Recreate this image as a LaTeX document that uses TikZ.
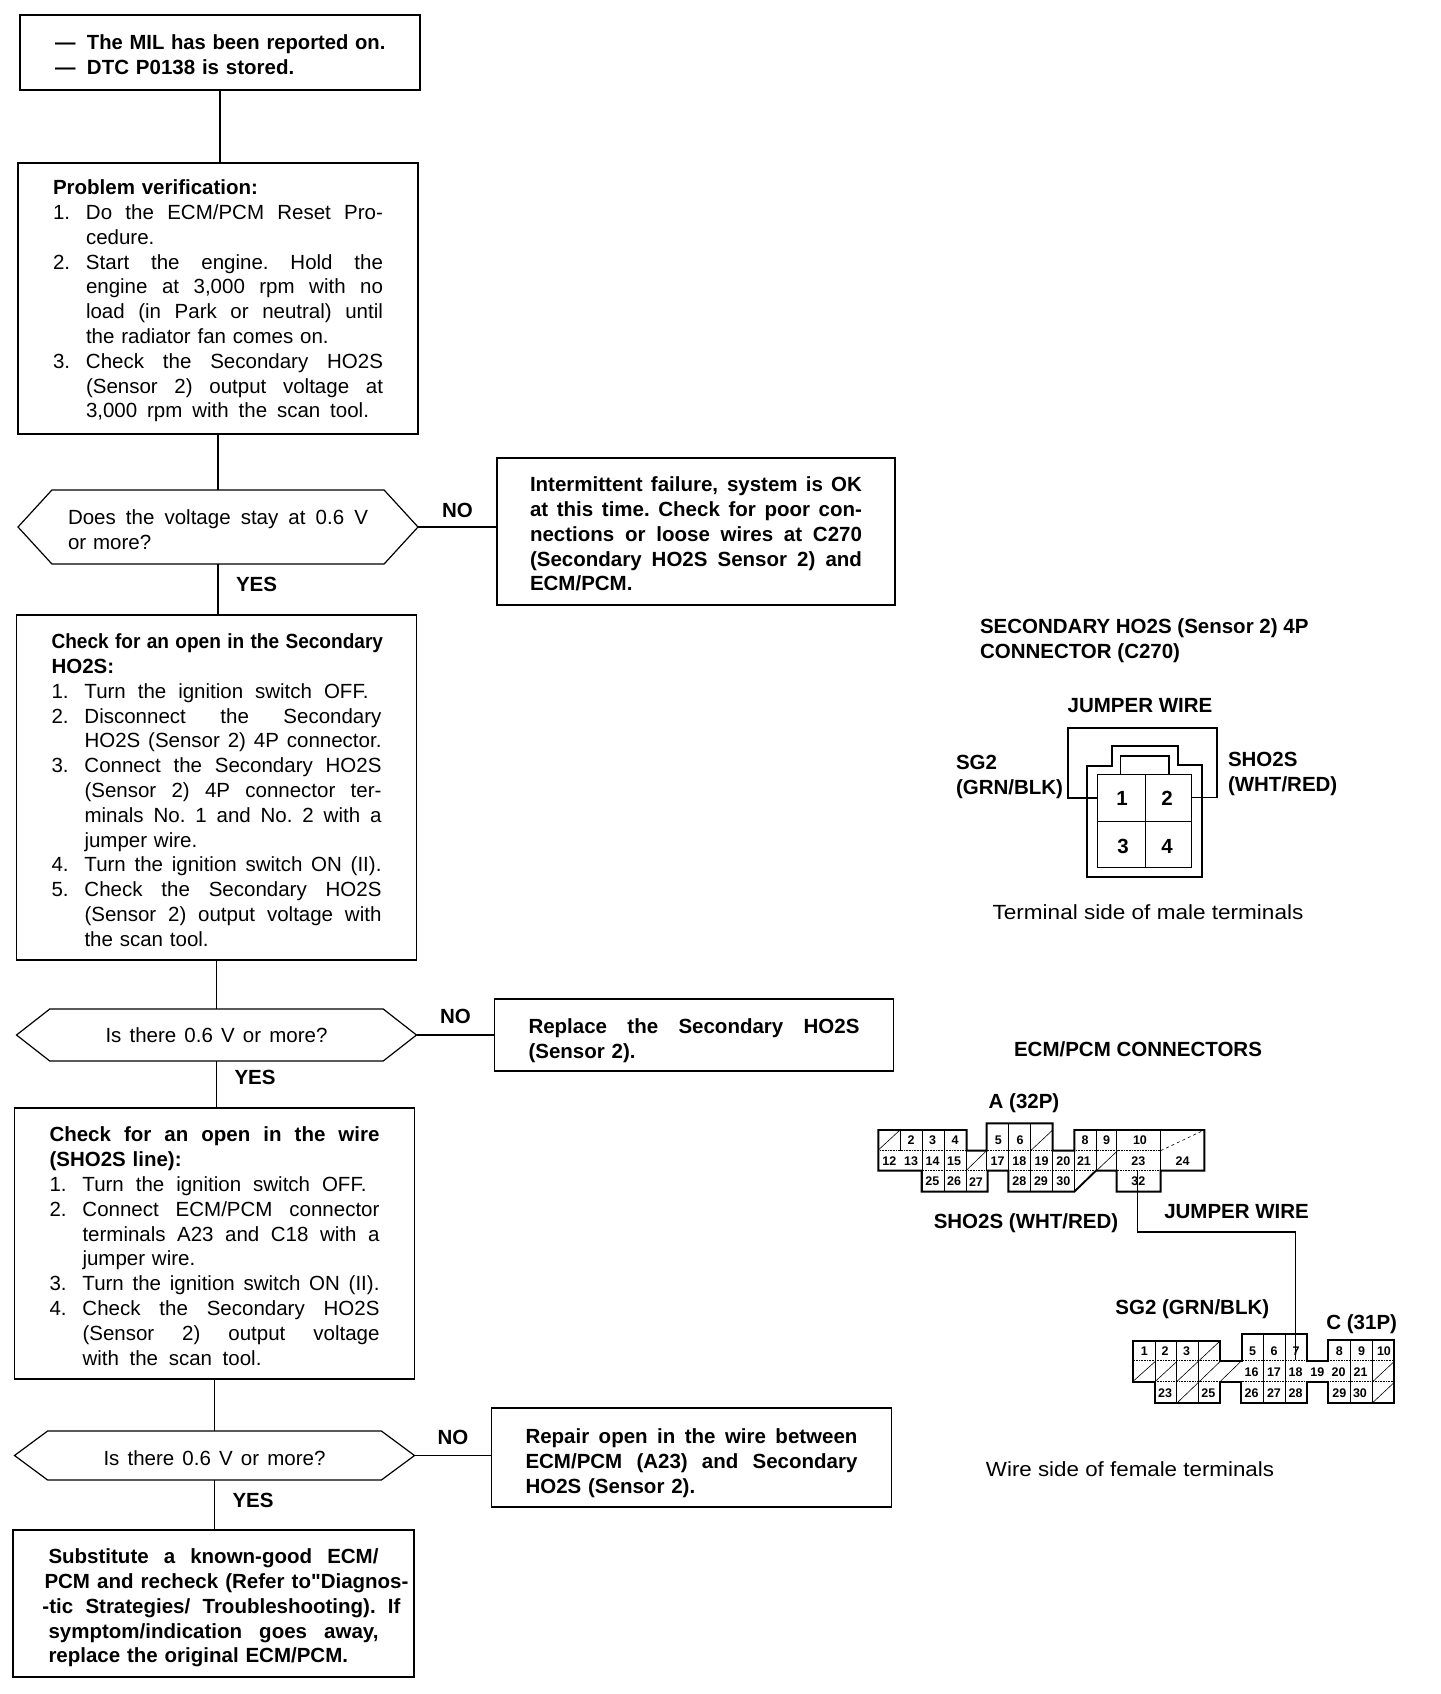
\documentclass[tikz,border=0pt]{standalone}
\usepackage{fontspec}
\setmainfont{Liberation Sans}[Ligatures=TeXOff]
\usepackage{tikz}
\usetikzlibrary{positioning,shapes.symbols}
\newcommand{\bodyfont}{\fontsize{20.5}{24.8}\selectfont}
\newcommand{\wdl}[2]{\makebox[#1][s]{\spaceskip=.28em plus 1fil minus .05em\xspaceskip=\spaceskip #2}}
\newcommand{\stl}[1]{\wdl{\hsize}{#1}}
\newcommand{\itm}[2]{\makebox[33pt][l]{#1}#2}
\newcommand{\sitm}[2]{\makebox[33pt][l]{#1}\wdl{\dimexpr\hsize-33pt}{#2}}
\newcommand{\witm}[3]{\makebox[33pt][l]{#1}\wdl{#2}{#3}}
\begin{document}
\begin{tikzpicture}[x=1pt,y=-1pt, every node/.style={font=\bodyfont,outer sep=0pt,inner sep=0pt},
 drop/.style={execute at begin node=\rule{0pt}{#1}},
 stepbox/.style={draw,line width=1.2pt,minimum width=400pt,text width=330pt,align=left},
 hexbox/.style={draw,line width=1.2pt,shape=signal,signal to=west and east,minimum width=400pt,text width=300pt,align=left},
 lbl/.style={font=\bodyfont\bfseries,align=left},
 cellnum/.style={font=\fontsize{12.5}{14}\selectfont\bfseries},
 wire/.style={line width=1.2pt}, thick line/.style={line width=1.9pt}, cell line/.style={line width=.6pt}]
\path[use as bounding box,fill=white] (0,0) rectangle (1440,1694);
\node[stepbox,drop=20pt,font=\bodyfont\bfseries,minimum height=75pt] (verify0) at (220,52.5) {\mbox{\makebox[32pt][l]{—}\scalebox{.985}[1]{The MIL has been reported on.}}\\\makebox[32pt][l]{—}DTC P0138 is stored.};
\node[stepbox,drop=20pt,minimum height=271pt,below=73pt of verify0,xshift=-2pt] (verify) {\textbf{Problem verification:}\\
\sitm{1.}{Do the ECM/PCM Reset Pro-}\\\itm{}{cedure.}\\
\sitm{2.}{Start the engine. Hold the}\\\sitm{}{engine at 3,000 rpm with no}\\\sitm{}{load (in Park or neutral) until}\\\itm{}{the radiator fan comes on.}\\
\sitm{3.}{Check the Secondary HO2S}\\\sitm{}{(Sensor 2) output voltage at}\\\witm{}{283pt}{3,000 rpm with the scan tool.}};
\node[hexbox,drop=19.5pt,minimum height=74pt,signal pointer angle=95,below=56pt of verify] (stay) {\stl{Does the voltage stay at 0.6 V}\\or more?};
\node[stepbox,drop=20pt,font=\bodyfont\bfseries,minimum width=398pt,text width=332pt,minimum height=147pt,right=79pt of stay,yshift=-4.5pt] (intermit) {\stl{Intermittent failure, system is OK}\\\stl{at this time. Check for poor con-}\\\stl{nections or loose wires at C270}\\\stl{(Secondary HO2S Sensor 2) and}\\ECM/PCM.};
\node[stepbox,drop=20pt,minimum height=345pt,below=51pt of stay,xshift=-1.5pt] (opensens) {\scalebox{.93}[1]{\textbf{Check for an open in the Secondary}}\\\textbf{HO2S:}\\
\witm{1.}{284pt}{Turn the ignition switch OFF.}\\
\sitm{2.}{Disconnect the Secondary}\\\sitm{}{HO2S (Sensor 2) 4P connector.}\\
\sitm{3.}{Connect the Secondary HO2S}\\\sitm{}{(Sensor 2) 4P connector ter-}\\\sitm{}{minals No. 1 and No. 2 with a}\\\itm{}{jumper wire.}\\
\sitm{4.}{Turn the ignition switch ON (II).}\\
\sitm{5.}{Check the Secondary HO2S}\\\sitm{}{(Sensor 2) output voltage with}\\\itm{}{the scan tool.}};
\node[hexbox,minimum height=52pt,signal pointer angle=76,align=center,below=49pt of opensens] (there1) {\wdl{222pt}{Is there 0.6 V or more?}};
\node[stepbox,drop=26pt,font=\bodyfont\bfseries,minimum width=399pt,text width=331pt,minimum height=72pt,right=78pt of there1] (replace) {\stl{Replace the Secondary HO2S}\\(Sensor 2).};
\node[stepbox,drop=20pt,minimum height=271pt,below=47pt of there1,xshift=-2pt] (openwire) {\stl{\textbf{Check for an open in the wire}}\\\textbf{(SHO2S line):}\\
\witm{1.}{284pt}{Turn the ignition switch OFF.}\\
\sitm{2.}{Connect ECM/PCM connector}\\\sitm{}{terminals A23 and C18 with a}\\\itm{}{jumper wire.}\\
\sitm{3.}{Turn the ignition switch ON (II).}\\
\sitm{4.}{Check the Secondary HO2S}\\\sitm{}{(Sensor 2) output voltage}\\\witm{}{179pt}{with the scan tool.}};
\node[hexbox,drop=19.5pt,minimum height=49pt,signal pointer angle=73,align=center,below=52pt of openwire] (there2) {\wdl{222pt}{Is there 0.6 V or more?}};
\node[stepbox,drop=26pt,font=\bodyfont\bfseries,minimum width=400pt,text width=332pt,minimum height=99pt,right=77pt of there2,yshift=-2pt] (repair) {\stl{Repair open in the wire between}\\\stl{ECM/PCM (A23) and Secondary}\\HO2S (Sensor 2).};
\node[stepbox,drop=24pt,font=\bodyfont\bfseries,minimum width=401pt,minimum height=147pt,below=50pt of there2,xshift=-1pt] (subst) {\stl{Substitute a known-good ECM/}\\\hspace*{-4pt}\wdl{364pt}{PCM and recheck (Refer to"Diagnos-}\\\hspace*{-6pt}\wdl{358pt}{-tic Strategies/ Troubleshooting). If}\\\stl{symptom/indication goes away,}\\replace the original ECM/PCM.};
\draw[wire] (verify0.south)--(verify0.south|-verify.north);
\draw[wire] (verify.south)--(stay.north);
\draw[wire] (stay.south)-- node[lbl,pos=.4,right=18pt] (yes1) {YES} (stay.south|-opensens.north);
\draw[wire] (opensens.south)--(there1.north);
\draw[wire] (there1.south)-- node[lbl,pos=.35,right=18pt] (yes2) {YES} (there1.south|-openwire.north);
\draw[wire] (openwire.south)--(there2.north);
\draw[wire] (there2.south)-- node[lbl,pos=.4,right=18pt] (yes3) {YES} (there2.south|-subst.north);
\draw[wire] (stay.east)-- node[lbl,above=9pt] (no1) {NO} (stay.east-|intermit.west);
\draw[wire] (there1.east)-- node[lbl,above=11pt] (no2) {NO} (there1.east-|replace.west);
\draw[wire] (there2.east)-- node[lbl,above=11pt] (no3) {NO} (there2.east-|repair.west);
\node[lbl,anchor=west] (c270title) at (980,640.5) {SECONDARY HO2S (Sensor 2) 4P\\CONNECTOR (C270)};
\node[lbl] (jumper1) at (1140,706) {JUMPER WIRE};
\node[lbl,anchor=west] (sg2a) at (956,777) {SG2\\(GRN/BLK)};
\node[lbl,anchor=west] (sho2sa) at (1228,774) {SHO2S\\(WHT/RED)};
\node (malenote) at (1148,912) {\scalebox{1.1}[1]{Terminal side of male terminals}};
\draw[thick line] (1086.7,876.7)--(1086.7,766)--(1111.7,766)--(1111.7,745.7)--(1178.3,745.7)--(1178.3,765)--(1201.7,765)--(1201.7,876.7)--cycle;
\draw[wire] (1120.7,774.3)--(1120.7,756)--(1169,756)--(1169,774.3);
\draw[wire] (1097.7,774.3) rectangle (1191.7,867.7);
\draw[cell line] (1145,774.3)--(1145,867.7) (1097.7,821)--(1191.7,821);
\coordinate (pin1) at (1098.3,798); \coordinate (pin2) at (1191.7,797.5);
\draw[thick line] (pin1)-|(1068.3,727.7)-|(1217.3,797.5)--(pin2);
\foreach \t/\px/\py in {1/1122/798,2/1167/798,3/1123/846.7,4/1167/846.7} \node[font=\bodyfont\bfseries] (male\t) at (\px,\py) {\t};
\node[lbl] (ecmtitle) at (1138,1049) {ECM/PCM CONNECTORS};
\node[lbl] (conna) at (1024,1103) {A (32P)};
\node[lbl] (sho2sb) at (1026,1222.7) {SHO2S (WHT/RED)};
\node[lbl] (jumper2) at (1236.6,1211.7) {JUMPER WIRE};
\node[lbl] (sg2b) at (1192.3,1309.3) {SG2 (GRN/BLK)};
\node[lbl] (connc) at (1361.7,1324.3) {C (31P)};
\node (femalenote) at (1130,1469) {\scalebox{1.09}[1]{Wire side of female terminals}};
\begin{scope}[shift={(860,1080)},x=.3333pt,y=-.3333pt]
\draw[thick line] (55,150)--(320,150)--(320,212)--(380,212)--(380,130)--(578,130)--(578,212)--(643,212)--(643,150)--(1033,150)--(1033,272)--(902,272)--(902,335)--(770,335)--(770,272)--(708,272)--(643,335)--(445,335)--(445,272)--(383,272)--(383,335)--(185,335)--(185,272)--(55,272)--cycle;
\foreach \px/\ya/\yb in {120/150/212,187/150/335,252/150/335,318/150/335,380/212/272,445/130/272,512/130/335,578/212/335,643/212/335,708/150/272,770/150/272,902/150/272} \draw[cell line] (\px,\ya)--(\px,\yb);
\draw[cell line,densely dotted] (55,212)--(320,212) (380,212)--(578,212) (643,212)--(902,212) (185,272)--(380,272) (445,272)--(708,272) (770,272)--(902,272);
\draw[cell line] (55,210)--(120,150) (318,272)--(380,212) (512,212)--(578,150) (643,335)--(775,210);
\draw[cell line,dashed] (902,212)--(1033,150);
\foreach \t/\px in {2/153,3/218,4/285,5/415,6/480,8/675,9/740,10/840} \node[cellnum] (pa\t) at (\px,180) {\t};
\foreach \t/\px in {12/88,13/153,14/218,15/282,17/413,18/478,19/545,20/610,21/672,23/835,24/968} \node[cellnum] (pa\t) at (\px,243) {\t};
\foreach \t/\px in {25/217,26/282,27/348,28/478,29/543,30/610,32/835} \node[cellnum] (pa\t) at (\px,305) {\t};
\coordinate (a23) at (833,272);
\end{scope}
\begin{scope}[shift={(1110,1260)},x=.3333pt,y=-.3333pt]
\draw[thick line] (68,243)--(330,243)--(330,302)--(395,302)--(395,222)--(592,222)--(592,302)--(655,302)--(655,240)--(852,240)--(852,428)--(655,428)--(655,365)--(592,365)--(592,428)--(393,428)--(393,365)--(330,365)--(330,430)--(135,430)--(135,365)--(68,365)--cycle;
\foreach \px/\ya/\yb in {135/243/365,200/243/430,265/243/430,460/222/428,527/222/428,722/240/428,788/240/428} \draw[cell line] (\px,\ya)--(\px,\yb);
\draw[cell line,densely dotted] (68,302)--(330,302) (395,302)--(852,302) (135,365)--(330,365) (395,365)--(592,365) (655,365)--(852,365);
\draw[cell line] (68,365)--(135,305) (135,365)--(200,305) (200,365)--(330,243) (200,430)--(330,305) (330,365)--(395,302) (788,365)--(852,305) (788,428)--(852,368);
\foreach \t/\px in {1/103,2/165,3/230,5/428,6/492,7/558,8/688,9/755,10/822} \node[cellnum] (pc\t) at (\px,273) {\t};
\foreach \t/\px in {16/425,17/492,18/557,19/622,20/686,21/752} \node[cellnum] (pc\t) at (\px,337) {\t};
\foreach \t/\px in {23/165,25/295,26/425,27/492,28/557,29/688,30/750} \node[cellnum] (pc\t) at (\px,400) {\t};
\coordinate (c18) at (556,300);
\end{scope}
\draw[wire] (a23)--(a23|-0,1232)-|(c18);
\end{tikzpicture}
\end{document}
